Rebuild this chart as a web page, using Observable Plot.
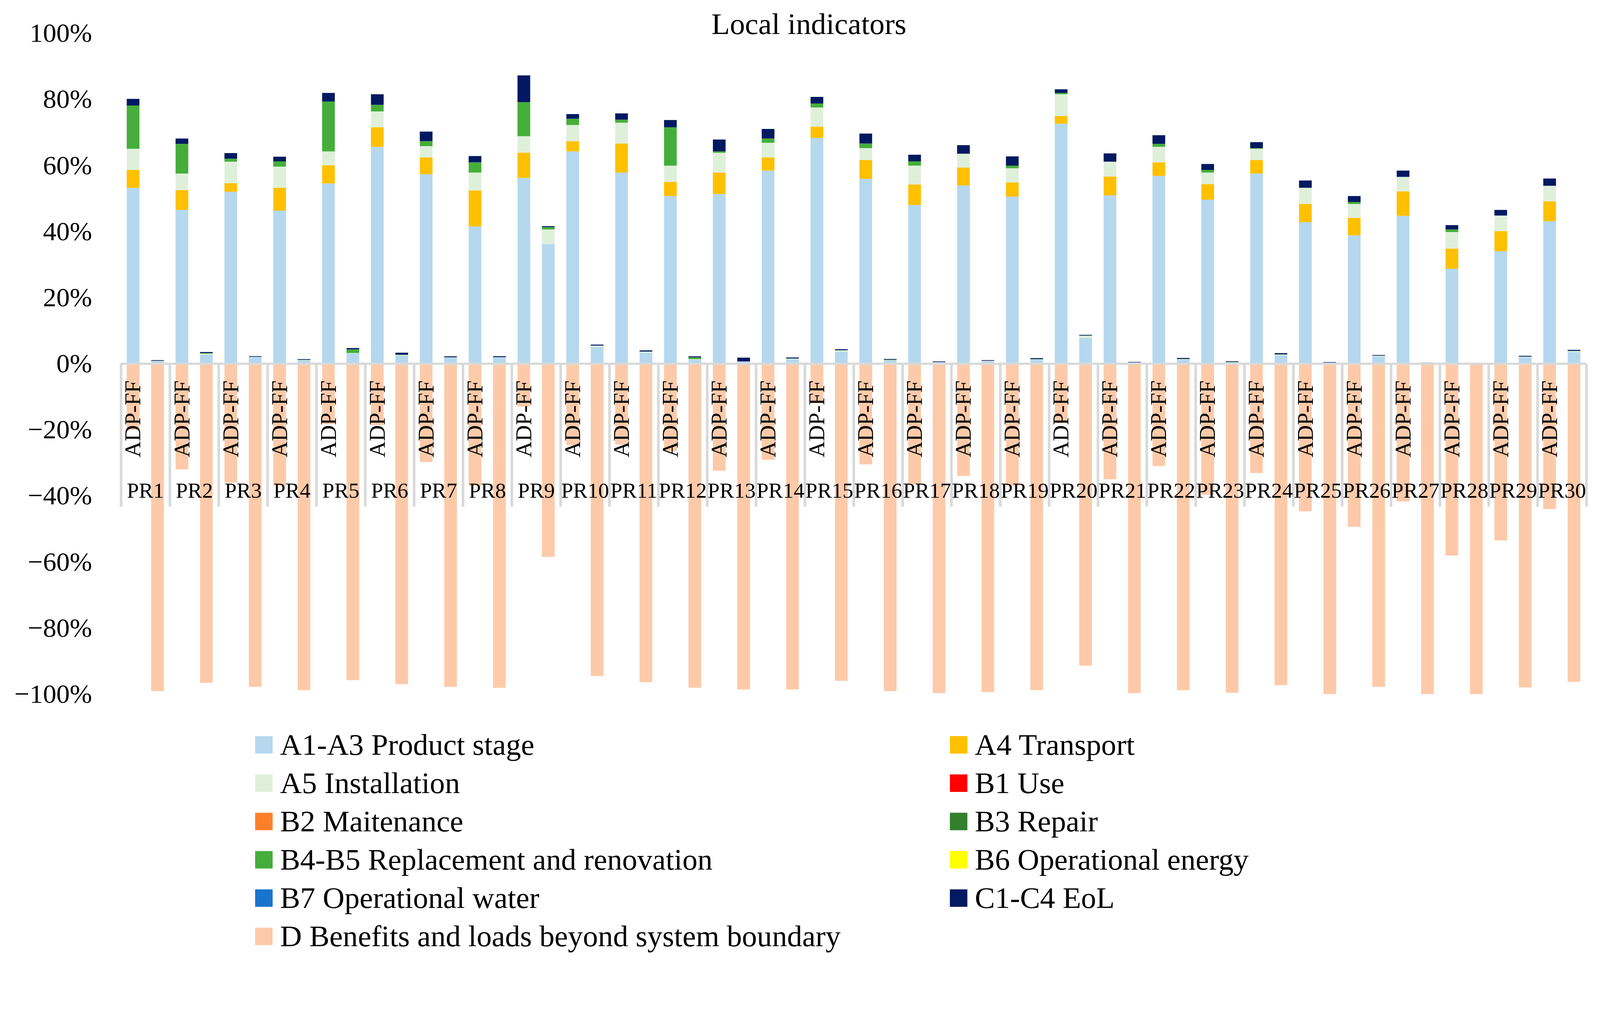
<!DOCTYPE html>
<html>
<head>
<meta charset="utf-8">
<script src="https://cdn.jsdelivr.net/npm/d3@7"></script>
<script src="https://cdn.jsdelivr.net/npm/@observablehq/plot@0.6"></script>
<style>
  html, body { margin: 0; padding: 0; background: #fff; overflow: hidden; }
  #page { width: 4302px; height: 2593px; position: absolute; left: 0; top: 0; transform-origin: 0 0;
          font-family: "Liberation Serif", "Times New Roman", serif; color: #000; background: #fff; }
  #title { position: absolute; left: 0; top: 24px; width: 4302px; padding-left: 48px; box-sizing: border-box;
           text-align: center; font-size: 81px; line-height: 1; z-index: 2; }
  #chart { position: absolute; left: 0; top: 0; z-index: 1; }
  .item { position: absolute; height: 103px; display: flex; align-items: center;
          font-size: 81px; line-height: 1; white-space: nowrap; }
  .sw { width: 47px; height: 47px; margin-right: 20px; flex: none; }
</style>
</head>
<body>
<div id="page">
  <div id="chart"></div>
  <div id="title">Local indicators</div>
  <div id="legend"></div>
</div>
<script>
// ---------------- data ----------------
const projects = d3.range(1, 31).map(i => "PR" + i);
const subLabels = ["ADP-FF", ""];

const stages = [
  "A1-A3 Product stage", "A4 Transport", "A5 Installation", "B1 Use", "B2 Maitenance",
  "B3 Repair", "B4-B5 Replacement and renovation", "B6 Operational energy",
  "B7 Operational water", "C1-C4 EoL", "D Benefits and loads beyond system boundary"
];
const stageColors = ["#b5d8ef", "#ffc000", "#dff0da", "#ff0000", "#ff8028",
  "#32802d", "#45ae3b", "#ffff00", "#1874cd", "#001960", "#fdcaa9"];

// first bar of each project (ADP-FF), values in %
const a1a3_1 = [53.2,46.5,52.0,46.3,54.5,65.6,57.3,41.5,56.2,64.2,57.8,50.7,51.3,58.4,68.3,55.9,48.0,53.9,50.5,72.6,50.9,56.8,49.6,57.5,42.8,38.8,44.7,28.7,34.0,43.1];
const a4_1   = [5.4,6.0,2.6,6.9,5.5,5.9,5.1,10.9,7.6,3.1,8.8,4.3,6.5,4.0,3.4,5.7,6.2,5.4,4.3,2.3,5.7,4.1,4.7,4.1,5.5,5.3,7.4,6.1,6.1,6.0];
const a5_1   = [6.4,5.0,6.5,6.4,4.2,4.8,3.4,5.4,5.0,4.9,6.3,4.9,6.0,4.4,5.8,3.6,5.7,4.2,4.3,6.6,4.5,4.7,3.5,3.4,4.9,4.2,4.4,5.0,4.7,4.7];
const b1_1   = new Array(30).fill(0);
const b2_1   = new Array(30).fill(0);
const b3_1   = new Array(30).fill(0);
const b45_1  = [13.1,9.0,0.9,1.6,15.1,2.0,1.5,3.1,10.3,1.9,0.9,11.6,0.4,1.3,1.2,1.4,1.3,0,0.8,0.4,0,0.9,0.8,0.2,0,0.6,0,0.8,0,0];
const b6_1   = new Array(30).fill(0);
const b7_1   = new Array(30).fill(0);
const c_1    = [2.0,1.6,1.7,1.4,2.6,3.2,2.9,1.9,8.1,1.4,1.9,2.2,3.6,2.9,2.0,3.0,2.0,2.6,2.8,1.1,2.5,2.6,1.8,1.8,2.2,1.8,1.9,1.3,1.7,2.2];
const d_1    = [-20.0,-32.0,-36.0,-37.0,-18.3,-18.6,-29.8,-37.0,-13.0,-24.7,-24.5,-26.5,-32.4,-29.1,-12.0,-30.5,-36.5,-34.0,-37.0,-18.0,-35.0,-31.0,-39.7,-33.1,-44.7,-49.4,-41.7,-58.1,-53.5,-44.0];

// second bar of each project (unlabelled)
const a1a3_2 = [0.7,2.7,1.9,1.0,3.1,2.4,1.8,1.9,36.2,5.0,3.3,1.2,0.6,1.3,3.6,1.0,0.4,0.65,1.2,7.8,0.3,1.15,0.35,2.45,0.2,2.15,0.05,0.05,1.9,3.5];
const a4_2   = new Array(30).fill(0);
const a5_2   = [0.1,0.3,0.1,0.1,0.1,0.2,0.1,0.05,4.4,0.4,0.3,0.15,0.05,0.2,0.4,0.05,0.05,0.2,0.1,0.6,0.05,0.2,0.05,0.3,0.05,0.2,0.05,0,0.2,0.3];
const b1_2   = new Array(30).fill(0);
const b2_2   = new Array(30).fill(0);
const b3_2   = new Array(30).fill(0);
const b45_2  = [0.05,0.2,0.05,0.05,1.1,0.1,0,0,0.7,0.05,0.05,0.55,0,0.05,0.05,0.15,0,0,0.05,0.1,0,0.05,0.1,0.05,0,0.05,0,0,0,0.05];
const b6_2   = new Array(30).fill(0);
const b7_2   = new Array(30).fill(0);
const c_2    = [0.2,0.3,0.2,0.2,0.4,0.6,0.3,0.3,0.3,0.3,0.35,0.3,1.15,0.3,0.3,0.2,0.2,0.2,0.3,0.2,0.15,0.3,0.2,0.35,0.2,0.2,0.2,0.15,0.25,0.3];
const d_2    = [-99.1,-96.6,-97.8,-98.8,-95.8,-97.0,-97.8,-98.1,-58.5,-94.5,-96.4,-98.1,-98.6,-98.6,-96.0,-99.1,-99.7,-99.4,-98.8,-91.4,-99.7,-98.8,-99.6,-97.3,-100.0,-97.8,-100.0,-100.0,-98.0,-96.3];

const yTicks = [-100, -80, -60, -40, -20, 0, 20, 40, 60, 80, 100];

// ---------------- table ----------------
const series1 = [a1a3_1, a4_1, a5_1, b1_1, b2_1, b3_1, b45_1, b6_1, b7_1, c_1, d_1];
const series2 = [a1a3_2, a4_2, a5_2, b1_2, b2_2, b3_2, b45_2, b6_2, b7_2, c_2, d_2];
const keys = [];
const rows = [];
projects.forEach((p, i) => {
  [series1, series2].forEach((ser, s) => {
    const key = p + "|" + (s + 1);
    keys.push(key);
    stages.forEach((st, k) => {
      const v = ser[k][i];
      if (v !== 0) rows.push({key, project: p, stage: st, value: v});
    });
  });
});

// ---------------- layout ----------------
const W = 4302, H = 1940;
const mL = 325, mR = 37, mT = 89, mB = 74;
const step = (W - mL - mR) / keys.length;
const sepBottom = -43.3;   // depth of the category separators (axis units)
const font = "Liberation Serif, Times New Roman, serif";

const chart = Plot.plot({
  width: W, height: H,
  marginLeft: mL, marginRight: mR, marginTop: mT, marginBottom: mB,
  style: {fontFamily: font, fontSize: "58px", color: "#000", background: "transparent", overflow: "visible"},
  x: {type: "band", domain: keys, paddingInner: 0.48, paddingOuter: 0.24, axis: null},
  y: {domain: [-100, 100], axis: null, label: null},
  color: {domain: stages, range: stageColors},
  marks: [
    Plot.barY(rows, Plot.stackY({x: "key", y: "value", fill: "stage", order: stages})),
    Plot.ruleY([0], {stroke: "#d9d9d9", strokeWidth: 6}),
    Plot.ruleX(projects, {x: d => d + "|1", y1: 0, y2: sepBottom, dx: -step / 2, stroke: "#d9d9d9", strokeWidth: 7}),
    Plot.ruleX([projects[projects.length - 1]], {x: d => d + "|2", y1: 0, y2: sepBottom, dx: step / 2, stroke: "#d9d9d9", strokeWidth: 7}),
    Plot.axisY({ticks: yTicks, tickSize: 0, tickPadding: 78, fontSize: 72, label: null,
      tickFormat: d => (d < 0 ? "\u2212" : "") + Math.abs(d) + "%"}),
    Plot.text(projects, {x: d => d + "|1", y: 0, text: () => subLabels[0], rotate: -90,
      textAnchor: "end", lineAnchor: "middle", dy: 45, fontSize: 60, fill: "#000"}),
    Plot.text(projects, {x: d => d + "|1", y: 0, text: d => d, dx: step / 2, dy: 342,
      lineAnchor: "middle", fontSize: 58, fill: "#000"})
  ]
});
document.getElementById("chart").appendChild(chart);

// ---------------- legend ----------------
const legend = document.getElementById("legend");
const colX = [686, 2554];
stages.forEach((st, i) => {
  const row = Math.floor(i / 2), col = i % 2;
  const item = document.createElement("div");
  item.className = "item";
  item.style.left = colX[col] + "px";
  item.style.top = (2002 + row * 103 - 51.5) + "px";
  const sw = document.createElement("div");
  sw.className = "sw";
  sw.style.background = stageColors[i];
  const tx = document.createElement("span");
  tx.textContent = st;
  item.appendChild(sw);
  item.appendChild(tx);
  legend.appendChild(item);
});

// fit the 4302×2593 page into the actual viewport
function fit() {
  const vw = window.innerWidth || 4302, vh = window.innerHeight || 2593;
  const s = Math.min(vw / 4302, vh / 2593);
  document.getElementById("page").style.transform = "scale(" + s + ")";
}
fit();
window.addEventListener("resize", fit);
</script>
</body>
</html>
